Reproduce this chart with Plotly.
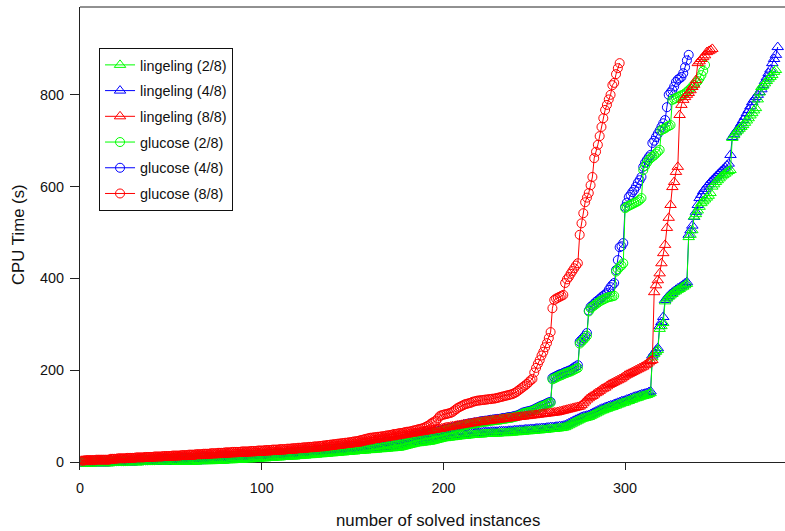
import plotly.graph_objects as go

# ---------------- data (CPU time in seconds, sorted, one value per solved instance) ----------------
series_names = ["lingeling (2/8)", "lingeling (4/8)", "lingeling (8/8)",
                "glucose (2/8)", "glucose (4/8)", "glucose (8/8)"]

lingeling_2 = [
    0,0,0,0,0,0,0,0,0,0,0,0,0,0,0,0,0,0,0,0,
    0,0,0,0,0,0,0,0,0,0,1,1,1,1,1,1,1,1,1,1,
    1,1,1,1,1,1,1,1,1,1,1,1,1,1,1,1,1,1,1,1,
    1,1,1,1,2,2,2,2,2,2,2,2,2,3,3,3,3,3,3,4,
    4,4,4,4,5,5,5,5,5,6,6,6,6,6,7,7,7,7,8,8,
    8,8,9,9,9,9,10,10,10,10,11,11,11,11,12,12,12,12,13,13,
    13,14,14,14,15,15,15,16,16,16,17,17,17,18,18,18,19,19,19,20,
    20,20,21,21,21,22,22,22,23,23,23,24,24,24,25,25,25,26,26,26,
    27,27,27,28,28,28,29,29,29,30,30,30,31,31,31,32,33,34,35,36,
    37,38,39,40,41,41,42,42,43,43,44,44,45,46,47,48,49,50,51,52,
    52,53,53,54,54,55,55,56,56,57,57,57,58,58,59,59,59,60,60,60,
    60,61,61,61,61,62,62,62,62,62,63,63,63,63,63,64,64,64,65,65,
    65,66,66,66,67,67,67,68,68,68,69,69,69,70,70,70,71,71,72,72,
    72,73,73,74,74,75,76,78,80,82,84,86,88,90,92,94,95,96,97,98,
    100,102,104,106,108,110,112,113,115,116,118,119,120,122,123,125,126,128,129,130,
    132,133,135,136,138,139,140,142,143,144,145,146,148,150,
    228,235,240,244,
    290,296,303,
    350,356,360,363,366,
    370,372,375,377,380,382,385,388,
    490,495,505,
    535,540,548,556,564,568,572,576,580,586,
    600,605,610,614,618,622,625,628,631,634,636,
    706,712,718,722,726,730,734,739,744,749,
    755,760,766,771,
    790,805,817,
    820,825,830,835,839,843,
    850,854,
]

lingeling_4 = [
    0,0,0,0,0,0,0,0,0,0,0,0,0,0,0,0,0,0,0,0,
    0,0,0,0,0,0,0,0,1,1,1,1,1,1,1,1,1,1,1,1,
    1,1,1,1,1,1,1,1,1,1,1,1,1,1,2,2,2,2,2,2,
    2,2,2,2,2,2,2,3,3,3,3,3,3,3,4,4,4,4,4,5,
    5,5,5,6,6,6,6,7,7,7,7,8,8,8,8,9,9,9,10,10,
    10,10,11,11,11,12,12,12,12,13,13,13,14,14,14,15,15,15,15,16,
    16,16,17,17,17,18,18,18,19,19,19,20,20,20,21,21,21,22,22,22,
    23,23,23,24,24,24,25,25,25,26,26,26,27,27,27,28,28,28,29,29,
    29,30,30,30,31,31,31,32,32,32,33,33,34,34,35,36,37,38,39,40,
    41,42,43,44,44,45,45,46,46,47,47,48,49,50,51,52,53,54,55,56,
    56,57,57,58,58,59,59,60,60,61,61,61,62,62,63,63,63,64,64,64,
    64,65,65,65,65,66,66,66,66,66,67,67,67,67,67,68,68,68,69,69,
    69,70,70,70,71,71,71,72,72,72,73,73,73,74,74,74,75,75,76,76,
    76,77,77,78,78,79,80,82,84,86,88,90,92,94,96,98,99,100,101,102,
    104,106,108,110,112,114,116,117,119,120,122,123,124,126,127,129,130,132,133,134,
    136,137,139,140,142,143,144,146,147,148,149,150,152,154,
    232,238,243,248,
    296,305,316,
    353,358,362,366,369,
    372,375,378,380,383,386,389,392,
    495,505,515,
    534,545,560,575,582,590,595,600,605,610,
    614,618,622,626,630,634,638,642,646,650,669,
    708,714,720,725,730,738,745,752,760,767,
    775,784,790,795,
    800,806,812,
    821,830,838,847,855,869,
    878,887,904,
]

lingeling_8 = [
    2,2,2,3,3,3,3,3,3,3,3,3,3,3,3,3,5,5,5,5,
    5,5,6,6,6,6,6,6,7,7,7,7,7,7,8,8,8,8,8,8,
    9,9,9,9,9,9,10,10,10,10,10,11,11,11,11,11,12,12,12,12,
    12,13,13,13,13,13,14,14,14,14,15,15,15,15,15,16,16,16,16,17,
    17,17,17,17,18,18,18,18,18,19,19,19,19,19,20,20,20,20,20,21,
    21,21,21,22,22,22,22,23,23,23,23,24,24,24,25,25,25,26,26,26,
    27,27,27,28,28,28,29,29,29,30,30,30,31,31,32,32,33,33,34,34,
    35,35,36,36,37,37,38,38,39,39,40,40,41,42,43,44,45,45,46,47,
    48,48,49,50,50,51,52,52,53,54,54,55,56,56,57,58,58,59,60,60,
    61,62,62,63,64,64,65,66,66,67,68,68,69,70,70,71,72,72,73,74,
    75,76,76,77,78,78,79,80,80,81,82,82,83,84,84,85,86,86,87,87,
    88,88,89,89,90,90,91,91,92,92,93,93,94,94,95,95,96,96,97,97,
    98,98,99,99,100,100,101,101,102,102,103,103,104,104,105,105,106,106,107,107,
    108,108,109,110,111,112,113,114,115,116,117,118,119,120,121,124,128,132,136,139,
    142,144,147,150,152,155,158,160,162,165,168,170,172,174,176,178,180,182,185,188,
    190,192,194,196,198,200,202,204,206,208,211,214,217,220,222,
    370,385,396,411,433,455,473,510,532,560,599,610,632,643,
    756,778,789,795,800,804,810,817,822,832,
    869,873,878,882,886,893,895,897,900,
]

glucose_2 = [
    0,0,0,0,0,0,0,0,1,1,1,1,1,1,1,1,1,1,2,2,
    2,2,2,2,2,2,3,3,3,3,3,3,3,3,4,4,4,4,4,4,
    4,5,5,5,5,5,5,5,6,6,6,6,6,6,7,7,7,7,7,7,
    8,8,8,8,8,8,9,9,9,9,9,10,10,10,10,10,11,11,11,11,
    11,12,12,12,12,12,12,13,13,13,13,13,13,14,14,14,14,14,15,15,
    15,15,15,16,16,16,16,17,17,17,17,18,18,18,18,19,19,19,20,20,
    20,21,21,21,22,22,22,23,23,23,24,24,24,25,25,25,26,26,26,27,
    27,27,28,28,28,29,29,30,30,30,31,31,32,32,33,33,34,34,35,36,
    36,37,38,38,39,40,40,41,42,42,43,44,44,45,46,46,47,48,49,50,
    51,52,53,54,55,56,57,58,59,60,60,61,62,63,64,64,65,66,67,68,
    69,70,71,72,73,74,75,76,77,78,79,80,81,82,82,83,84,84,85,86,
    87,87,88,88,89,90,90,91,91,92,92,93,94,94,95,96,96,97,98,99,
    100,102,104,106,107,108,109,110,111,113,115,117,119,121,122,124,126,128,129,180,
    182,184,186,188,189,191,193,194,196,197,199,201,203,205,258,262,266,270,275,328,
    335,338,341,344,347,350,352,354,356,358,359,360,361,362,415,420,425,428,433,553,
    556,558,560,562,564,566,568,571,575,636,645,652,658,662,665,668,672,676,680,723,
    725,727,730,732,734,789,791,793,795,797,799,800,803,806,810,813,818,821,826,830,
    836,843,852,865,
]

glucose_4 = [
    0,0,0,0,0,0,1,1,1,1,1,1,1,1,1,1,2,2,2,2,
    2,2,2,2,3,3,3,3,3,3,3,4,4,4,4,4,4,5,5,5,
    5,5,5,5,6,6,6,6,6,6,7,7,7,7,7,8,8,8,8,8,
    8,9,9,9,9,9,10,10,10,10,10,11,11,11,11,11,12,12,12,12,
    12,12,13,13,13,13,13,13,14,14,14,14,14,14,15,15,15,15,15,15,
    16,16,16,16,17,17,17,17,18,18,18,18,19,19,19,20,20,20,21,21,
    21,22,22,22,23,23,23,24,24,25,25,25,26,26,26,27,27,27,28,28,
    28,29,29,29,30,30,30,31,31,32,32,33,33,34,34,35,35,36,37,37,
    38,39,40,40,41,42,42,43,44,44,45,46,46,47,48,48,49,50,51,52,
    53,54,55,56,57,58,59,60,61,62,62,63,64,65,66,66,67,68,69,70,
    71,72,73,74,75,76,77,78,79,80,81,82,83,84,84,85,86,86,87,88,
    89,89,90,90,91,92,92,93,93,94,94,95,96,96,97,98,98,99,100,101,
    102,104,106,108,109,110,111,112,113,115,117,119,121,123,124,126,128,130,131,183,
    185,187,189,191,192,194,196,197,199,200,203,206,208,211,262,266,270,275,281,330,
    338,341,345,349,352,355,359,362,365,368,375,381,386,390,418,440,468,470,477,556,
    565,577,582,588,593,600,608,614,621,643,652,658,664,669,695,700,708,715,722,730,
    738,745,773,800,805,810,818,828,833,836,839,847,860,875,887,
]

glucose_8 = [
    3,3,4,4,4,4,4,4,5,5,5,5,5,5,5,5,7,7,7,7,
    8,8,8,8,8,9,9,9,9,9,10,10,10,10,10,11,11,11,11,11,
    12,12,12,12,12,13,13,13,13,13,14,14,14,14,14,15,15,15,15,16,
    16,16,16,17,17,17,17,18,18,18,18,19,19,19,19,20,20,20,20,21,
    21,21,21,22,22,22,22,22,23,23,23,23,23,24,24,24,24,25,25,25,
    25,26,26,26,26,27,27,27,27,28,28,28,28,29,29,29,30,30,30,31,
    31,31,32,32,32,33,33,33,34,34,34,35,35,36,36,37,37,38,38,39,
    39,40,40,41,41,42,42,43,43,44,45,45,46,47,48,49,50,51,52,53,
    53,54,54,55,55,56,56,57,58,58,59,60,61,61,62,63,63,64,65,66,
    66,67,68,69,70,71,72,73,74,76,78,80,83,86,88,90,95,100,102,103,
    104,105,106,107,109,112,115,118,120,122,124,126,127,128,129,131,132,133,134,134,
    135,135,136,136,137,137,138,138,139,140,141,142,143,144,145,146,147,148,150,152,
    155,158,161,164,167,170,174,178,181,195,205,214,222,232,240,250,259,270,283,335,
    353,356,358,360,362,364,390,398,403,410,416,422,428,433,495,520,542,566,576,586,
    603,621,662,676,691,710,730,749,767,778,790,800,821,826,845,858,869,
]

series_values = [lingeling_2, lingeling_4, lingeling_8, glucose_2, glucose_4, glucose_8]
series_colors = ["#00ff00", "#0000ff", "#ff0000", "#00ff00", "#0000ff", "#ff0000"]
series_symbols = ["triangle-up-open"] * 3 + ["circle-open"] * 3

x_ticks = [0, 100, 200, 300]
y_ticks = [0, 200, 400, 600, 800]

# drawing order (later on top): L4, L2, G4, G2, L8, G8
draw_order = [1, 0, 4, 3, 2, 5]

fig = go.Figure()
for i in draw_order:
    vals = series_values[i]
    fig.add_trace(go.Scatter(
        x=list(range(1, len(vals) + 1)), y=vals,
        mode="lines+markers", name=series_names[i],
        legendrank=i + 1, legendgroup=series_names[i],
        line=dict(color=series_colors[i], width=1),
        marker=dict(symbol=series_symbols[i], size=9 if i >= 3 else 10,
                    color=series_colors[i], line=dict(color=series_colors[i], width=1)),
    ))

axis_col = "#222222"
fig.update_layout(
    width=785, height=531,
    margin=dict(l=80, r=0, t=7, b=61),
    paper_bgcolor="white", plot_bgcolor="white",
    font=dict(family="Liberation Sans, Arial, sans-serif", size=14.4, color="#111"),
    showlegend=True,
    legend=dict(x=0.027, y=0.9114, xanchor="left", yanchor="top",
                bordercolor="#111", borderwidth=1, bgcolor="white",
                font=dict(size=14.4), tracegroupgap=4, traceorder="grouped"),
    xaxis=dict(range=[0, 388], tickvals=x_ticks, ticks="inside", ticklen=8,
               tickcolor=axis_col, showgrid=False, zeroline=False, showline=False,
               ticklabelstandoff=8),
    yaxis=dict(range=[-17.4, 991.3], tickvals=y_ticks, ticks="outside", ticklen=9,
               tickcolor=axis_col, showgrid=False, showline=True, linecolor=axis_col,
               zeroline=True, zerolinecolor=axis_col, zerolinewidth=1,
               ticklabelstandoff=3),
    shapes=[dict(type="line", xref="paper", yref="paper", x0=0, x1=1, y0=1, y1=1,
                 line=dict(color=axis_col, width=1))],
    annotations=[
        dict(text="number of solved instances", xref="paper", yref="paper",
             x=0.508, y=-0.110, xanchor="center", yanchor="middle",
             showarrow=False, font=dict(size=16.8)),
        dict(text="CPU Time (s)", xref="paper", yref="paper",
             x=-0.0865, y=0.5076, xanchor="center", yanchor="middle",
             textangle=-90, showarrow=False, font=dict(size=16.8)),
    ],
)

fig.write_html("out.html")
